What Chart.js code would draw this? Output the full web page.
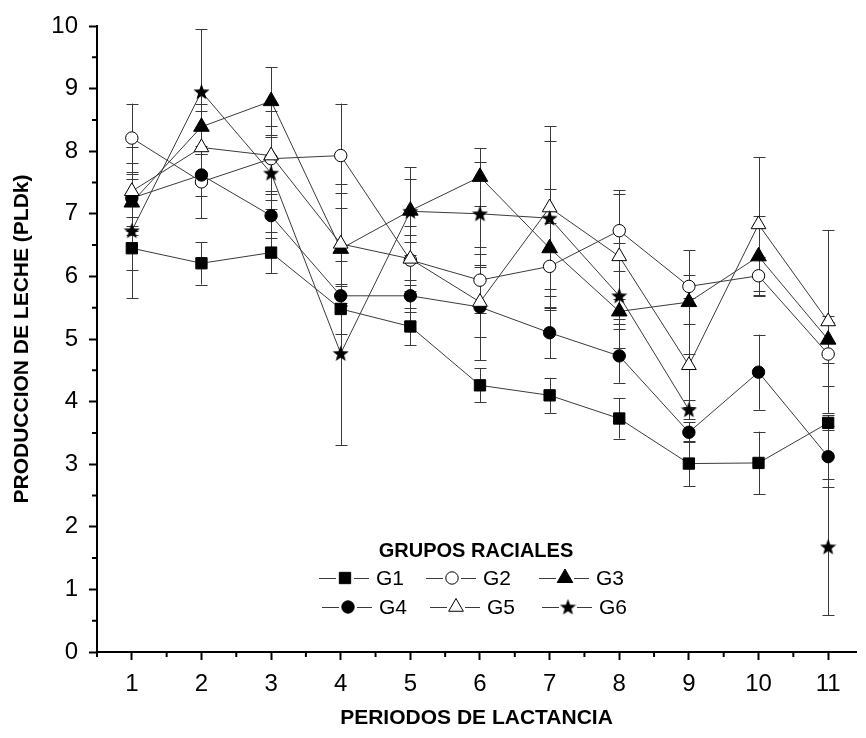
<!DOCTYPE html>
<html>
<head>
<meta charset="utf-8">
<title>Producción de leche por periodo de lactancia</title>
<script src="https://cdn.jsdelivr.net/npm/chart.js@4.4.1/dist/chart.umd.min.js"></script>
<style>
  html, body { margin: 0; padding: 0; background: #fff; overflow: hidden; }
  #wrap { width: 866px; height: 738px; }
</style>
</head>
<body>
<div id="wrap"><canvas id="milkChart" width="866" height="738"></canvas></div>
<script>
// Data (means and +/- error per lactation period)
const periods = [1, 2, 3, 4, 5, 6, 7, 8, 9, 10, 11];
const groupNames = ['G1', 'G2', 'G3', 'G4', 'G5', 'G6'];

const g1 = [6.45, 6.21, 6.38, 5.48, 5.20, 4.26, 4.10, 3.73, 3.01, 3.02, 3.66];
const g2 = [8.21, 7.51, 7.88, 7.93, 6.26, 5.94, 6.16, 6.73, 5.84, 6.01, 4.76];
const g3 = [7.18, 8.39, 8.80, 6.44, 7.05, 7.59, 6.45, 5.44, 5.59, 6.32, 4.99];
const g4 = [7.25, 7.62, 6.97, 5.69, 5.69, 5.51, 5.10, 4.73, 3.51, 4.47, 3.12];
const g5 = [7.36, 8.06, 7.93, 6.52, 6.28, 5.59, 7.10, 6.32, 4.58, 6.83, 5.28];
const g6 = [6.73, 8.95, 7.65, 4.77, 7.04, 7.00, 6.93, 5.69, 3.87, null, 1.68];

const g1Err = [0.35, 0.34, 0.33, 0.40, 0.30, 0.27, 0.28, 0.32, 0.36, 0.50, 0.12];
const g2Err = [0.55, 0.58, 0.52, 0.83, 0.40, 0.53, 0.70, 0.65, 0.18, 0.30, 0.51];
const g3Err = [0.45, 0.37, 0.54, 0.89, 0.50, 0.46, 0.95, 0.20, 0.83, 0.64, 0.38];
const g4Err = [0.30, 0.33, 0.35, 0.16, 0.26, 0.85, 0.41, 0.43, 0.16, 0.60, 0.49];
const g5Err = [0.70, 0.58, 0.71, 0.95, 0.52, 0.56, 1.30, 1.00, 0.66, 1.07, 1.46];
const g6Err = [1.08, 1.00, 0.57, 1.47, 0.70, 0.82, 1.24, 0.84, 0.15, null, 1.09];

const xTicks = [1, 2, 3, 4, 5, 6, 7, 8, 9, 10, 11];
const yTicks = [0, 1, 2, 3, 4, 5, 6, 7, 8, 9, 10];

const xTitle = 'PERIODOS DE LACTANCIA';
const yTitle = 'PRODUCCION DE LECHE (PLDk)';
const legendTitle = 'GRUPOS RACIALES';

const FONT = 'Arial, "Liberation Sans", Helvetica, sans-serif';
const INK = '#000';
const LINE = '#3a3a3a';

// five pointed star, Chart.js has no filled star point style
function makeStar(size) {
  const c = document.createElement('canvas');
  c.width = size;
  c.height = size;
  const g = c.getContext('2d');
  const R = size / 2, r = R * 0.42;
  g.beginPath();
  for (let k = 0; k < 10; k++) {
    const a = -Math.PI / 2 + k * Math.PI / 5;
    const rad = k % 2 === 0 ? R : r;
    g.lineTo(R + rad * Math.cos(a), R + 0.6 + rad * Math.sin(a));
  }
  g.closePath();
  g.fillStyle = '#000';
  g.fill();
  return c;
}
const star = makeStar(17);

const seriesValues = [g1, g2, g3, g4, g5, g6];
const seriesErrors = [g1Err, g2Err, g3Err, g4Err, g5Err, g6Err];
const markers = [
  { style: 'rect', radius: 8, fill: '#000' },
  { style: 'circle', radius: 6.2, fill: '#fff' },
  { style: 'triangle', radius: 9, fill: '#000' },
  { style: 'circle', radius: 6.2, fill: '#000' },
  { style: 'triangle', radius: 8.5, fill: '#fff' },
  { style: star, radius: 8, fill: '#000' }
];

const datasets = groupNames.map((name, i) => ({
  label: name,
  data: periods.map((p, j) => ({ x: p, y: seriesValues[i][j] })),
  errors: seriesErrors[i],
  borderColor: LINE,
  borderWidth: 1,
  pointStyle: markers[i].style,
  pointRadius: markers[i].radius,
  pointBackgroundColor: markers[i].fill,
  pointBorderColor: INK,
  pointBorderWidth: 1,
  spanGaps: false,
  tension: 0,
  order: groupNames.length - i // later groups drawn on top
}));

// vertical error bars with caps, drawn under the markers
const errorBars = {
  id: 'errorBars',
  beforeDatasetsDraw(chart) {
    const { ctx, scales: { x, y } } = chart;
    ctx.save();
    ctx.strokeStyle = LINE;
    ctx.lineWidth = 1;
    chart.data.datasets.forEach((ds) => {
      ds.data.forEach((pt, j) => {
        const e = ds.errors[j];
        if (pt.y == null || e == null) return;
        const px = Math.round(x.getPixelForValue(pt.x)) + 0.5;
        const top = y.getPixelForValue(pt.y + e);
        const bot = y.getPixelForValue(pt.y - e);
        ctx.beginPath();
        ctx.moveTo(px, top);
        ctx.lineTo(px, bot);
        ctx.moveTo(px - 6, Math.round(top) + 0.5);
        ctx.lineTo(px + 6, Math.round(top) + 0.5);
        ctx.moveTo(px - 6, Math.round(bot) + 0.5);
        ctx.lineTo(px + 6, Math.round(bot) + 0.5);
        ctx.stroke();
      });
    });
    ctx.restore();
  }
};

// short minor ticks at the half units on both axes
const minorTicks = {
  id: 'minorTicks',
  afterDraw(chart) {
    const { ctx, chartArea, scales: { x, y } } = chart;
    ctx.save();
    ctx.strokeStyle = INK;
    ctx.lineWidth = 2;
    ctx.beginPath();
    for (let v = 0.5; v <= x.max; v += 1) {
      const px = x.getPixelForValue(v);
      ctx.moveTo(px, chartArea.bottom);
      ctx.lineTo(px, chartArea.bottom + 5);
    }
    for (let v = 0.5; v < y.max; v += 1) {
      const py = y.getPixelForValue(v);
      ctx.moveTo(chartArea.left - 5, py);
      ctx.lineTo(chartArea.left, py);
    }
    ctx.stroke();
    ctx.restore();
  }
};

// legend box in the lower middle of the plot, line-marker-line like the original
const groupLegend = {
  id: 'groupLegend',
  afterDraw(chart) {
    const ctx = chart.ctx;
    const slots = [[345, 578], [452, 578], [565, 578], [348, 607], [456, 607], [568, 607]];
    ctx.save();
    ctx.fillStyle = INK;
    ctx.font = 'bold 20px ' + FONT;
    ctx.textAlign = 'center';
    ctx.textBaseline = 'middle';
    ctx.fillText(legendTitle, 476, 551);

    chart.data.datasets.forEach((ds, i) => {
      const [cx, cy] = slots[i];
      const gap = 9;
      ctx.strokeStyle = LINE;
      ctx.lineWidth = 1;
      ctx.beginPath();
      ctx.moveTo(cx - 26, cy + 0.5);
      ctx.lineTo(cx - gap, cy + 0.5);
      ctx.moveTo(cx + gap, cy + 0.5);
      ctx.lineTo(cx + 24, cy + 0.5);
      ctx.stroke();

      ctx.fillStyle = ds.pointBackgroundColor;
      ctx.strokeStyle = INK;
      ctx.lineWidth = 1;
      Chart.helpers.drawPoint(ctx, {
        pointStyle: ds.pointStyle,
        radius: ds.pointRadius,
        rotation: 0,
        borderWidth: 1
      }, cx, cy);

      ctx.fillStyle = INK;
      ctx.font = '21px ' + FONT;
      ctx.textAlign = 'left';
      ctx.fillText(ds.label, cx + 31, cy + 1);
    });
    ctx.restore();
  }
};

const axisGrid = {
  drawOnChartArea: false,
  drawTicks: true,
  tickLength: 8,
  tickWidth: 2,
  tickColor: INK
};

new Chart(document.getElementById('milkChart'), {
  type: 'line',
  data: { datasets: datasets },
  options: {
    responsive: false,
    animation: false,
    layout: { padding: { top: 26, right: 0, bottom: 0, left: 0 } },
    plugins: {
      legend: { display: false },
      tooltip: { enabled: false }
    },
    scales: {
      x: {
        type: 'linear',
        min: 0.5,
        max: 11.4,
        afterBuildTicks: (s) => { s.ticks = xTicks.map(v => ({ value: v })); },
        afterFit: (s) => { s.height = 86; },
        ticks: {
          color: INK,
          font: { family: FONT, size: 24 },
          padding: 10,
          maxRotation: 0,
          autoSkip: false
        },
        grid: axisGrid,
        border: { display: true, color: INK, width: 2 },
        title: {
          display: true,
          text: xTitle,
          color: INK,
          font: { family: FONT, size: 21, weight: 'bold' },
          padding: { top: 0, bottom: 7 }
        }
      },
      y: {
        min: 0,
        max: 10,
        afterBuildTicks: (s) => { s.ticks = yTicks.map(v => ({ value: v })); },
        afterFit: (s) => { s.width = 97; },
        ticks: {
          color: INK,
          font: { family: FONT, size: 24 },
          padding: 11
        },
        grid: axisGrid,
        border: { display: true, color: INK, width: 2 },
        title: {
          display: true,
          text: yTitle,
          color: INK,
          font: { family: FONT, size: 21, weight: 'bold' },
          padding: { top: 10, bottom: 0 }
        }
      }
    }
  },
  plugins: [errorBars, minorTicks, groupLegend]
});
</script>
</body>
</html>
